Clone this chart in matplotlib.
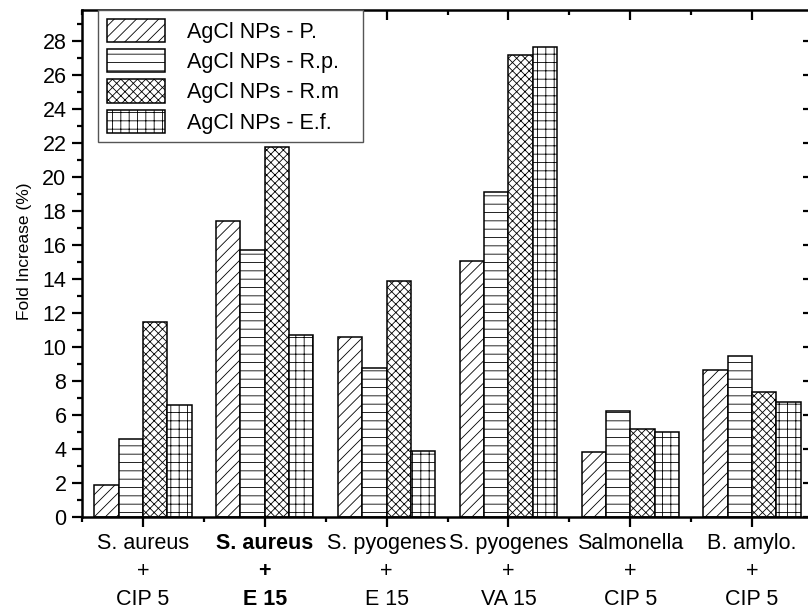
import matplotlib
matplotlib.use("Agg")
import matplotlib.pyplot as plt
import numpy as np
from matplotlib.ticker import MultipleLocator, FixedLocator

plt.rcParams['font.family'] = ['Liberation Sans', 'DejaVu Sans']
plt.rcParams['hatch.linewidth'] = 0.6

# data
categories = ["S. aureus\n+\nCIP 5", "S. aureus\n+\nE 15", "S. pyogenes\n+\nE 15",
              "S. pyogenes\n+\nVA 15", "Salmonella\n+\nCIP 5", "B. amylo.\n+\nCIP 5"]
series_names = ["AgCl NPs - P.", "AgCl NPs - R.p.", "AgCl NPs - R.m", "AgCl NPs - E.f."]
val_P = [1.89, 17.44, 10.57, 15.09, 3.81, 8.68]
val_Rp = [4.6, 15.71, 8.8, 19.15, 6.26, 9.45]
val_Rm = [11.49, 21.76, 13.89, 27.22, 5.2, 7.37]
val_Ef = [6.58, 10.7, 3.89, 27.66, 4.99, 6.78]
hatches = ["///", "--", "xxxx", "++"]

fig = plt.figure(figsize=(8.08, 6.09), dpi=100)
ax = fig.add_axes([82 / 808, 92 / 609, 731 / 808, 507 / 609])

x = np.arange(1, len(categories) + 1)
w = 0.2
all_vals = [val_P, val_Rp, val_Rm, val_Ef]
for i, (vals, name, h) in enumerate(zip(all_vals, series_names, hatches)):
    ax.bar(x + (i - 1.5) * w, vals, width=w, color='white', edgecolor='black',
           linewidth=1.1, hatch=h, label=name)

ax.set_xlim(0.5, 6.5)
ax.set_ylim(0, 29.85)

ax.yaxis.set_major_locator(MultipleLocator(2))
ax.yaxis.set_minor_locator(MultipleLocator(1))
ax.xaxis.set_major_locator(FixedLocator(x))
ax.xaxis.set_minor_locator(FixedLocator(np.arange(0.5, 7, 1)))
ax.set_xticklabels(categories, linespacing=1.45)
ax.get_xticklabels()[1].set_fontweight('bold')

ax.tick_params(axis='both', which='major', labelsize=15.5, length=7.2, width=1.6, pad=4)
ax.tick_params(axis='both', which='minor', length=3.6, width=1.6)
ax.tick_params(axis='x', which='both', top=True)
ax.tick_params(axis='y', which='both', right=True)

for s in ax.spines.values():
    s.set_linewidth(1.8)

# ticks on top and right spines point inwards
for t in ax.xaxis.get_major_ticks() + ax.xaxis.get_minor_ticks():
    t.tick2line.set_marker(matplotlib.lines.TICKDOWN)
for t in ax.yaxis.get_major_ticks() + ax.yaxis.get_minor_ticks():
    t.tick2line.set_marker(matplotlib.lines.TICKLEFT)

ax.set_ylabel("Fold Increase (%)", fontsize=12.5)
ax.yaxis.set_label_coords(-0.068, 0.524)

leg = ax.legend(loc='upper left', bbox_to_anchor=(0.022, 0, 265 / 731, 1.0), mode='expand',
                borderaxespad=0, fontsize=15.5, handlelength=2.7, handleheight=1.3,
                labelspacing=0.3, handletextpad=1.05, borderpad=0.4, fancybox=False,
                framealpha=1)
leg.get_frame().set_edgecolor('#555555')
leg.get_frame().set_linewidth(1.0)

plt.savefig('out.png', dpi=100)
